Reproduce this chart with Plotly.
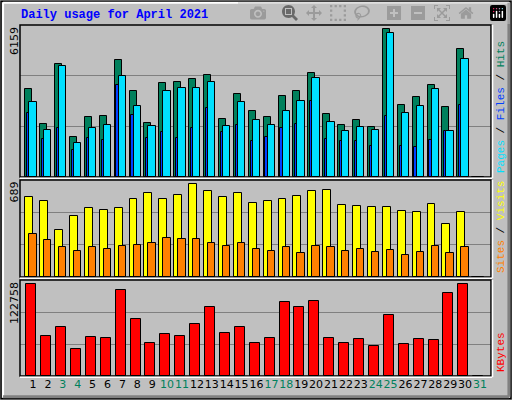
import plotly.graph_objects as go

days = list(range(1, 32))
weekend = [3, 4, 10, 11, 17, 18, 24, 25, 31]

hits = [3548, 2168, 4563, 1612, 2424, 2464, 4738, 3479, 2180, 3804, 3845, 3967, 4117, 2343, 3358,
        2667, 2424, 3276, 3479, 4210, 2546, 2099, 2302, 2018, 5997, 2911, 3236, 3723, 2830, 5185, 0]
files = [3021, 1924, 4482, 1368, 1977, 2099, 4088, 2870, 2058, 3479, 3601, 3601, 3845, 2058, 3033,
         2302, 2099, 2667, 3073, 4007, 2221, 1855, 2018, 1896, 5834, 2586, 2870, 3561, 1855, 4779, 0]
pages = [2586, 1531, 1977, 1084, 1571, 1490, 3723, 2505, 1571, 1815, 1571, 1977, 2789, 1815, 2099,
         1449, 1612, 1977, 2140, 3073, 1531, 1449, 1449, 1246, 2464, 1246, 1206, 1490, 1855, 2911, 0]
visits = [565, 537, 337, 430, 487, 473, 487, 551, 594, 551, 580, 658, 608, 565, 594,
          523, 537, 551, 573, 608, 615, 508, 501, 494, 494, 466, 459, 516, 380, 459, 0]
sites = [302, 266, 216, 188, 216, 202, 223, 230, 238, 280, 273, 273, 238, 223, 245,
         202, 188, 216, 173, 223, 216, 188, 202, 181, 195, 159, 181, 223, 173, 216, 0]
kbytes = [117190, 51750, 63300, 35070, 50470, 49190, 109500, 72280, 42770, 54320, 51750, 65870,
          87680, 55600, 63300, 42770, 49190, 94090, 87680, 95380, 49190, 42770, 47900, 38920,
          77410, 41490, 47900, 46620, 105640, 117190, 0]

max_hits = 6159
max_visits = 689
max_kb = 122758

BG = '#c0c0c0'
line = dict(color='black', width=1)

fig = go.Figure()
def bar(y, color, off, w, ax):
  fig.add_trace(go.Bar(x=days, y=y, offset=off, width=w, marker=dict(color=color, line=line),
                       xaxis='x' if ax == 'y' else 'x' + ax[1], yaxis=ax, showlegend=False))

bar(hits, '#00805c', -0.52, 0.47, 'y')
bar(pages, '#0040ff', -0.40, 0.45, 'y')
bar(files, '#00e0ff', -0.25, 0.49, 'y')
bar(visits, '#ffff00', -0.52, 0.53, 'y2')
bar(sites, '#ff8000', -0.25, 0.49, 'y2')
bar(kbytes, '#ff0000', -0.45, 0.67, 'y3')

xr = [0.128, 31.74]
xd = [20 / 512, 491 / 512]
doms = {'y': [0.5575, 0.9375], 'y2': [0.3075, 0.55], 'y3': [0.06, 0.3]}
maxes = {'y': max_hits, 'y2': max_visits, 'y3': max_kb}

ticktext = [f'<span style="color:#00805c">{d}</span>' if d in weekend else str(d) for d in days]
for i, ax in enumerate(['y', 'y2', 'y3']):
  n = '' if i == 0 else str(i + 1)
  m = maxes[ax]
  fig.update_layout({
    'xaxis' + n: dict(domain=xd, range=xr, anchor=ax, showgrid=False, zeroline=False,
                      tickvals=days if i == 2 else [], ticktext=ticktext if i == 2 else [],
                      showticklabels=(i == 2), ticks='', tickangle=0,
                      tickfont=dict(family='DejaVu Sans', size=11, color='black')),
    'yaxis' + n: dict(domain=doms[ax], range=[0, m], anchor='x' + n, tickvals=[m / 3, 2 * m / 3],
                      showticklabels=False, gridcolor='#808080', gridwidth=1, zeroline=False),
  })
  y0, y1 = doms[ax]
  fig.add_shape(type='rect', xref='paper', yref='paper', x0=xd[0], x1=xd[1], y0=y0, y1=y1,
                line=dict(color='black', width=1.5))
  fig.add_shape(type='line', xref='paper', yref='paper', x0=xd[0], x1=xd[1] + 0.002,
                y0=y0 - 0.003, y1=y0 - 0.003, line=dict(color='white', width=1.5))
  fig.add_shape(type='line', xref='paper', yref='paper', x0=xd[1] + 0.003, x1=xd[1] + 0.003,
                y0=y0 - 0.003, y1=y1, line=dict(color='white', width=1.5))
  fig.add_annotation(xref='paper', yref='paper', x=14 / 512, y=y1, text=f'{m}', textangle=-90,
                     showarrow=False, xanchor='center', yanchor='top',
                     font=dict(family='DejaVu Sans', size=11, color='black'))

mono = 'Liberation Mono'
right = [
  ('y', '<span style="color:#00e0ff">Pages</span> / <span style="color:#0040ff">Files</span> / '
        '<span style="color:#00805c">Hits</span>'),
  ('y2', '<span style="color:#ff8000">Sites</span> / <span style="color:#ffff00">Visits</span>'),
  ('y3', '<span style="color:#ff0000">KBytes</span>'),
]
for ax, t in right:
  fig.add_annotation(xref='paper', yref='paper', x=501 / 512, y=doms[ax][0] + 0.005, text=t,
                     textangle=-90, showarrow=False, xanchor='center', yanchor='bottom',
                     font=dict(family=mono, size=11, color='black'))

fig.add_annotation(xref='paper', yref='paper', x=19 / 512, y=1 - 15 / 400, text='<b>Daily usage for April 2021</b>',
                   showarrow=False, xanchor='left', yanchor='middle',
                   font=dict(family=mono, size=12, color='#0000ff'))

# outer frame
fig.add_shape(type='rect', xref='paper', yref='paper', x0=0.002, x1=0.998, y0=0.003, y1=0.997,
              line=dict(color='black', width=1.5))
fig.add_shape(type='line', xref='paper', yref='paper', x0=0.006, x1=0.994, y0=0.993, y1=0.993,
              line=dict(color='white', width=2))
fig.add_shape(type='line', xref='paper', yref='paper', x0=0.006, x1=0.006, y0=0.007, y1=0.993,
              line=dict(color='white', width=2))
fig.add_shape(type='line', xref='paper', yref='paper', x0=0.006, x1=0.994, y0=0.008, y1=0.008,
              line=dict(color='#808080', width=3))
fig.add_shape(type='line', xref='paper', yref='paper', x0=0.994, x1=0.994, y0=0.008, y1=0.993,
              line=dict(color='#808080', width=3))

fig.update_layout(width=512, height=400, margin=dict(l=0, r=0, t=0, b=0), paper_bgcolor=BG,
                  plot_bgcolor=BG, barmode='overlay', bargap=0)
fig.write_html('out.html', post_script="document.body.style.margin='0';document.body.style.overflow='hidden';")
